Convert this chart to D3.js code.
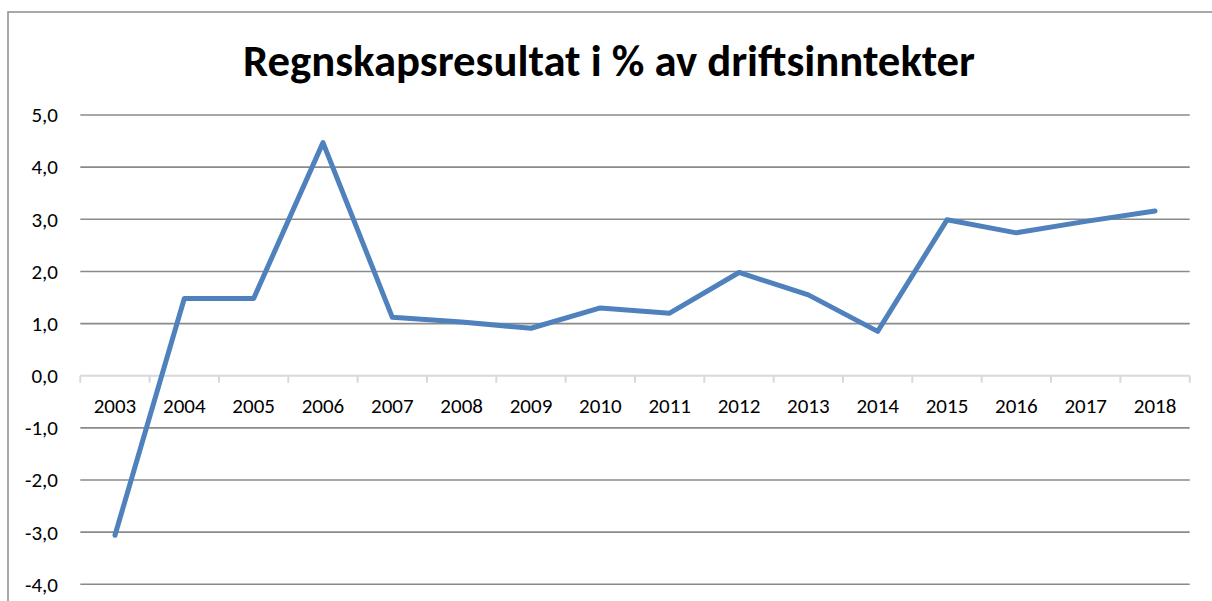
<!DOCTYPE html>
<html>
<head>
<meta charset="utf-8">
<script src="https://cdnjs.cloudflare.com/ajax/libs/d3/7.8.5/d3.min.js"></script>
<style>
  html, body { margin: 0; padding: 0; background: #fff; }
  svg { display: block; }
  text { font-family: Carlito, Lato, "Open Sans", sans-serif; fill: #000; }
</style>
</head>
<body>
<script>
// data
var years = ['2003','2004','2005','2006','2007','2008','2009','2010',
             '2011','2012','2013','2014','2015','2016','2017','2018'];
var resultat = [-3.06, 1.48, 1.48, 4.47, 1.12, 1.03, 0.91, 1.30,
                1.20, 1.98, 1.55, 0.85, 2.99, 2.74, 2.96, 3.16];
var yTicks = [-4, -3, -2, -1, 0, 1, 2, 3, 4, 5];
var title = 'Regnskapsresultat i % av driftsinntekter';

var W = 1212, H = 601;

var svg = d3.select('body').append('svg')
    .attr('width', W).attr('height', H);

// chart frame (only left + top edges visible in the crop)
svg.append('rect')
    .attr('x', 8).attr('y', 12)
    .attr('width', W + 20).attr('height', H + 20)
    .attr('fill', '#fff')
    .attr('stroke', '#8c8c8c').attr('stroke-width', 1.5);

var x = d3.scaleBand().domain(years).range([80.3, 1189.7]).padding(0);
var y = d3.scaleLinear().domain([-4, 5]).range([584.3, 115]);

// horizontal gridlines
svg.append('g').selectAll('line')
    .data(yTicks.filter(function(d) { return d !== 0; }))
  .enter().append('line')
    .attr('x1', x.range()[0]).attr('x2', x.range()[1])
    .attr('y1', function(d) { return y(d); })
    .attr('y2', function(d) { return y(d); })
    .attr('stroke', '#8a8a8a').attr('stroke-width', 1.6);

// y labels
var fmt = function(d) { return d3.format('.1f')(d).replace('.', ',').replace('−', '-'); };
svg.append('g').selectAll('text')
    .data(yTicks)
  .enter().append('text')
    .attr('x', 58)
    .attr('y', function(d) { return y(d); })
    .attr('dy', '0.35em')
    .attr('text-anchor', 'end')
    .style('font-size', '21px')
    .text(fmt);

// category axis at zero
var x0 = y(0);
var axis = svg.append('g');
axis.append('line')
    .attr('x1', x.range()[0]).attr('x2', x.range()[1])
    .attr('y1', x0).attr('y2', x0)
    .attr('stroke', '#d9d9d9').attr('stroke-width', 2);
axis.selectAll('line.tick')
    .data(years.concat(['end']))
  .enter().append('line')
    .attr('class', 'tick')
    .attr('x1', function(d, i) { return x.range()[0] + i * x.bandwidth(); })
    .attr('x2', function(d, i) { return x.range()[0] + i * x.bandwidth(); })
    .attr('y1', x0).attr('y2', x0 + 7)
    .attr('stroke', '#d9d9d9').attr('stroke-width', 2);
axis.selectAll('text')
    .data(years)
  .enter().append('text')
    .attr('x', function(d) { return x(d) + x.bandwidth() / 2; })
    .attr('y', x0 + 30)
    .attr('dy', '0.35em')
    .attr('text-anchor', 'middle')
    .style('font-size', '21px')
    .text(function(d) { return d; });

// the series line
var line = d3.line()
    .x(function(d, i) { return x(years[i]) + x.bandwidth() / 2; })
    .y(function(d) { return y(d); });
svg.append('path')
    .datum(resultat)
    .attr('d', line)
    .attr('fill', 'none')
    .attr('stroke', '#4f81bd')
    .attr('stroke-width', 5)
    .attr('stroke-linejoin', 'round')
    .attr('stroke-linecap', 'round');

// title
svg.append('text')
    .attr('x', 609).attr('y', 76)
    .attr('text-anchor', 'middle')
    .attr('textLength', 732)
    .attr('lengthAdjust', 'spacingAndGlyphs')
    .style('font-size', '44px')
    .style('font-weight', 'bold')
    .text(title);
</script>
</body>
</html>
